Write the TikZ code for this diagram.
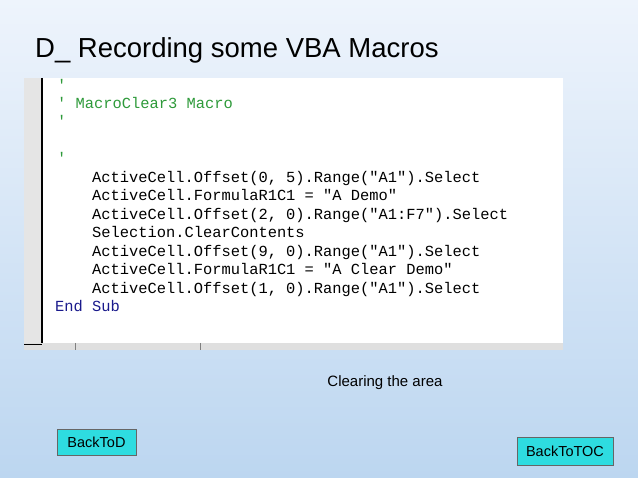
\documentclass[tikz,border=0pt]{standalone}
\usepackage{fontspec}
\setmainfont{Liberation Sans}
\newfontfamily\codefont{Liberation Mono}
\definecolor{bgtop}{HTML}{EEF4FC}
\definecolor{bgbot}{HTML}{BCD6F0}
\definecolor{cmt}{HTML}{2E9A3A}
\definecolor{kw}{HTML}{1A1A8C}
\definecolor{btn}{HTML}{2EDCE0}
\begin{document}
\begin{tikzpicture}[x=1pt,y=-1pt,
  code/.style={anchor=base west,inner sep=0pt,font=\codefont\fontsize{15.4}{15.4}\selectfont},
  button/.style={draw=black!60,fill=btn,font=\fontsize{14.5}{14.5}\selectfont,inner sep=0pt}]
\shade[top color=bgtop,bottom color=bgbot] (0,0) rectangle (638,478);
\useasboundingbox (0,0) rectangle (638,478);
\node[anchor=base west,inner sep=0pt,font=\fontsize{27.5}{27.5}\selectfont] (title) at (35,58) {D\_ Recording some VBA Macros};
\node[fill=white,minimum width=539pt,minimum height=272pt,inner sep=0pt,anchor=north west] (shot) at (24,78) {};
\fill[gray!20] (24,78) rectangle (41,343);
\draw[black,line width=1.2pt] (42,78) -- (42,343);
\fill[gray!25] (24,343) rectangle (563,350);
\draw[black,line width=1pt] (24,345) -- (42,345);
\draw[gray] (75,343) -- (75,350) (200,343) -- (200,350);
\node[code,text=cmt] (c1) at (57,91) {'};
\node[code,text=cmt] (c2) at (57,109) {' MacroClear3 Macro};
\node[code,text=cmt] (c3) at (57,127) {'};
\node[code,text=cmt] (c4) at (57,164) {'};
\node[code] (l1) at (92,183) {ActiveCell.Offset(0, 5).Range("A1").Select};
\node[code] (l2) at (92,201) {ActiveCell.FormulaR1C1 = "A Demo"};
\node[code] (l3) at (92,220) {ActiveCell.Offset(2, 0).Range("A1:F7").Select};
\node[code] (l4) at (92,238) {Selection.ClearContents};
\node[code] (l5) at (92,257) {ActiveCell.Offset(9, 0).Range("A1").Select};
\node[code] (l6) at (92,275) {ActiveCell.FormulaR1C1 = "A Clear Demo"};
\node[code] (l7) at (92,294) {ActiveCell.Offset(1, 0).Range("A1").Select};
\node[code,text=kw] (es) at (55,312) {End Sub};
\node[font=\fontsize{15}{15}\selectfont] (cap) at (385,383) {Clearing the area};
\node[button,minimum width=79pt,minimum height=26pt] (bd) at (96.5,442) {BackToD};
\node[button,minimum width=96pt,minimum height=28pt] (bt) at (565,451) {BackToTOC};
\end{tikzpicture}
\end{document}
